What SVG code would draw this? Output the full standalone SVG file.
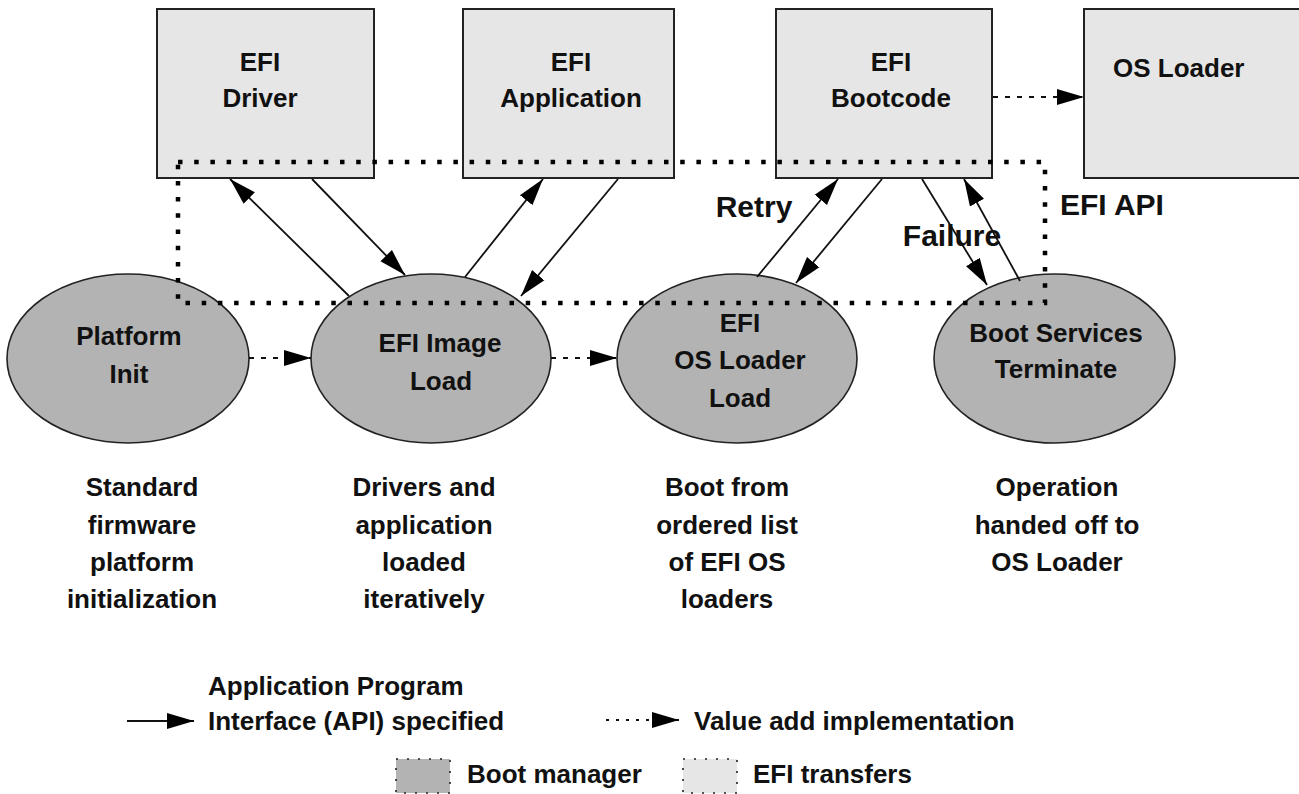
<svg xmlns="http://www.w3.org/2000/svg" width="1299" height="794" viewBox="0 0 1299 794">
<style>
text{font-family:"Liberation Sans",Arial,sans-serif;font-weight:bold;fill:#111;}
.t{font-size:26px;text-anchor:middle;}
.ts{font-size:26px;}
.lbl{font-size:30px;}
.box{fill:#e6e6e6;stroke:#222;stroke-width:2;}
.ell{fill:#b3b3b3;stroke:#222;stroke-width:1.6;}
.api{fill:none;stroke:#000;stroke-width:4.5;stroke-dasharray:4.5 11.7;}
.solid{stroke:#111;stroke-width:1.8;fill:none;marker-end:url(#ah);}
.dash{stroke:#111;stroke-width:2;fill:none;stroke-dasharray:5 7;marker-end:url(#ah);}
.sw{stroke:#222;stroke-width:1.6;stroke-dasharray:2 9;}
</style>
<defs>
<marker id="ah" markerUnits="userSpaceOnUse" markerWidth="28" markerHeight="18" refX="27" refY="8" orient="auto" viewBox="0 0 28 16">
<path d="M0,0 L27,8 L0,16 z" fill="#000"/>
</marker>
</defs>
<rect width="1299" height="794" fill="#fff"/>

<g id="efi-driver">
<rect class="box" x="157" y="9" width="217" height="169"/>
<text class="t" x="260" y="71">EFI</text>
<text class="t" x="260" y="107">Driver</text>
</g>
<g id="efi-application">
<rect class="box" x="463" y="9" width="211" height="169"/>
<text class="t" x="571" y="71">EFI</text>
<text class="t" x="571" y="107">Application</text>
</g>
<g id="efi-bootcode">
<rect class="box" x="776" y="9" width="216" height="169"/>
<text class="t" x="891" y="71">EFI</text>
<text class="t" x="891" y="107">Bootcode</text>
</g>
<g id="os-loader">
<rect class="box" x="1084" y="9" width="230" height="169"/>
<text class="ts" x="1113" y="77">OS Loader</text>
</g>

<g id="platform-init">
<ellipse class="ell" cx="128" cy="358.5" rx="121" ry="84.5"/>
<text class="t" x="129" y="345">Platform</text>
<text class="t" x="129" y="383">Init</text>
</g>
<g id="efi-image-load">
<ellipse class="ell" cx="431" cy="358.5" rx="120" ry="84.5"/>
<text class="t" x="440" y="352">EFI Image</text>
<text class="t" x="441" y="390">Load</text>
</g>
<g id="efi-os-loader-load">
<ellipse class="ell" cx="737" cy="358.5" rx="120" ry="84.5"/>
<text class="t" x="740" y="332">EFI</text>
<text class="t" x="740" y="369">OS Loader</text>
<text class="t" x="740" y="407">Load</text>
</g>
<g id="boot-services-terminate">
<ellipse class="ell" cx="1054.5" cy="358.5" rx="120.5" ry="84.5"/>
<text class="t" x="1056" y="342">Boot Services</text>
<text class="t" x="1056" y="378">Terminate</text>
</g>

<g id="efi-api-boundary">
<rect class="api" x="178" y="162" width="867" height="141"/>
<text class="lbl" x="1060" y="215">EFI API</text>
</g>

<g id="connectors">
<line class="solid" x1="349" y1="296" x2="230" y2="179"/>
<line class="solid" x1="312" y1="179" x2="405" y2="275"/>
<line class="solid" x1="465" y1="277" x2="543" y2="179"/>
<line class="solid" x1="618" y1="179" x2="521" y2="296"/>
<line class="solid" x1="757" y1="277" x2="838" y2="179"/>
<line class="solid" x1="882" y1="179" x2="796" y2="283"/>
<line class="solid" x1="922" y1="179" x2="987" y2="285"/>
<line class="solid" x1="1020" y1="281" x2="964" y2="179"/>
<line class="dash" x1="249" y1="358" x2="311" y2="358"/>
<line class="dash" x1="551" y1="358" x2="617" y2="358"/>
<line class="dash" x1="993" y1="97" x2="1084" y2="97"/>
<text class="lbl" x="754" y="217" text-anchor="middle">Retry</text>
<text class="lbl" x="952" y="246" text-anchor="middle">Failure</text>
</g>

<g id="descriptions">
<text class="t" x="142" y="496">Standard</text>
<text class="t" x="142" y="534">firmware</text>
<text class="t" x="142" y="571">platform</text>
<text class="t" x="142" y="608">initialization</text>
<text class="t" x="424" y="496">Drivers and</text>
<text class="t" x="424" y="534">application</text>
<text class="t" x="424" y="571">loaded</text>
<text class="t" x="424" y="608">iteratively</text>
<text class="t" x="727" y="496">Boot from</text>
<text class="t" x="727" y="534">ordered list</text>
<text class="t" x="727" y="571">of EFI OS</text>
<text class="t" x="727" y="608">loaders</text>
<text class="t" x="1057" y="496">Operation</text>
<text class="t" x="1057" y="534">handed off to</text>
<text class="t" x="1057" y="571">OS Loader</text>
</g>

<g id="legend">
<line class="solid" x1="127" y1="721" x2="194" y2="721"/>
<text class="ts" x="208" y="695">Application Program</text>
<text class="ts" x="208" y="730">Interface (API) specified</text>
<line class="dash" x1="606" y1="720" x2="679" y2="720" style="stroke-dasharray:3 7"/>
<text class="ts" x="694" y="730">Value add implementation</text>
<rect class="sw" x="396" y="759" width="54" height="34" fill="#b3b3b3"/>
<text class="ts" x="467" y="783">Boot manager</text>
<rect class="sw" x="683" y="759" width="54" height="34" fill="#e6e6e6"/>
<text class="ts" x="753" y="783">EFI transfers</text>
</g>
</svg>
